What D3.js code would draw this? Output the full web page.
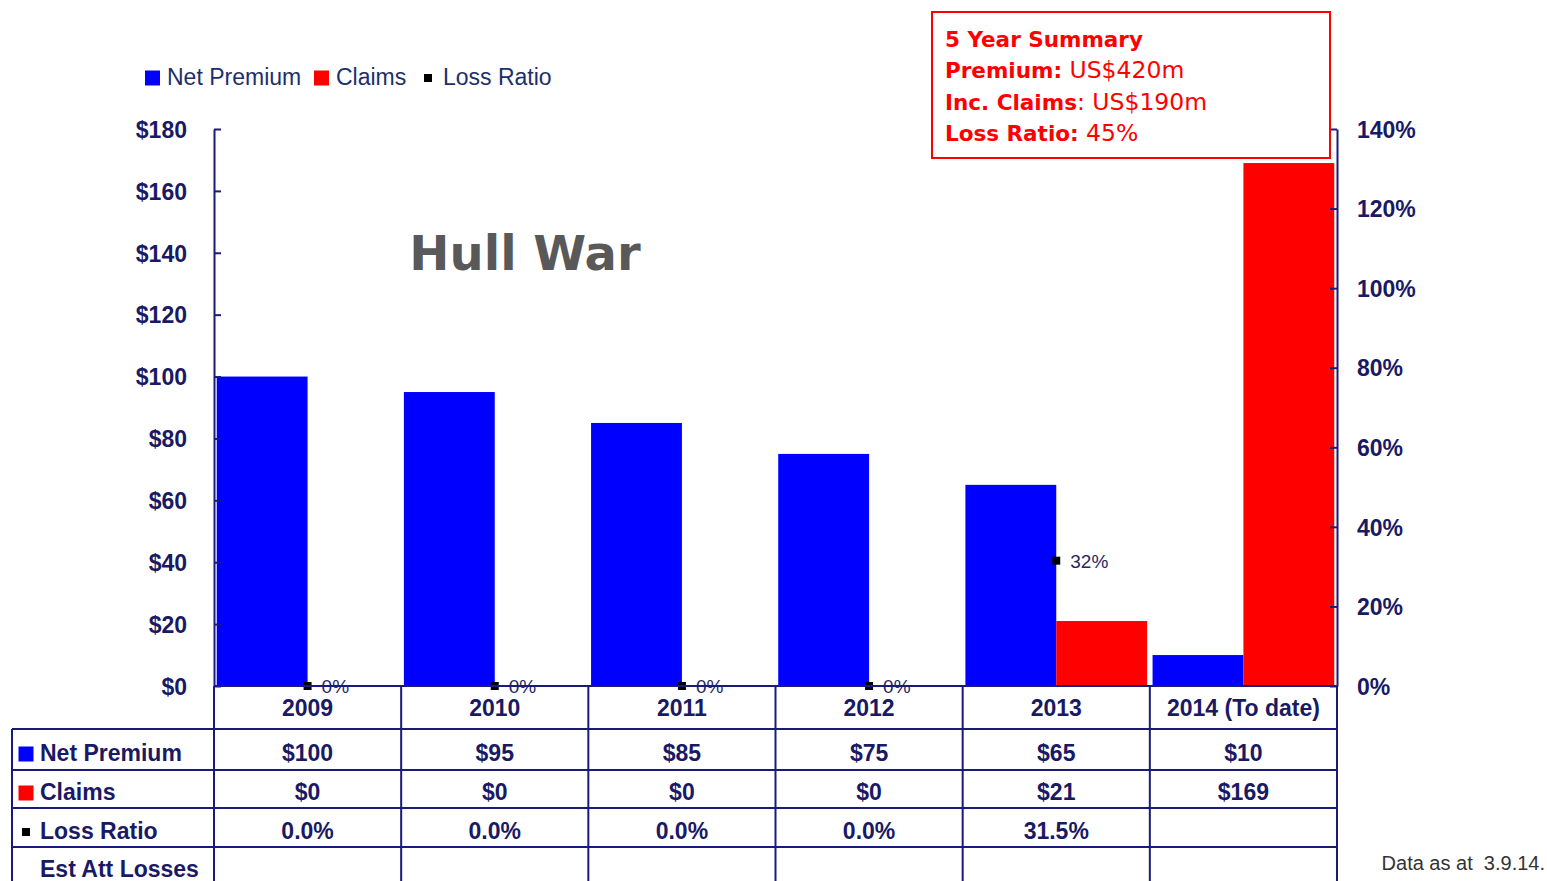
<!DOCTYPE html>
<html>
<head>
<meta charset="utf-8">
<script src="https://cdn.jsdelivr.net/npm/d3@7"></script>
<style>
  body { margin: 0; background: #fff; }
</style>
</head>
<body>
<div id="chart"></div>
<script>
(function(){

	var years = ["2009", "2010", "2011", "2012", "2013", "2014 (To date)"];
	var netPremium = [100, 95, 85, 75, 65, 10];
	var claims = [0, 0, 0, 0, 21, 169];
	var lossRatio = [0, 0, 0, 0, 31.5, null];
	var leftTicks = [0, 20, 40, 60, 80, 100, 120, 140, 160, 180];
	var rightTicks = [0, 20, 40, 60, 80, 100, 120, 140];
	var summaryLines = [
		["5 Year Summary", ""],
		["Premium:", " US$420m"],
		["Inc. Claims", ": US$190m"],
		["Loss Ratio:", " 45%"]
	];

	var width = 1547;
	var height = 881;
	var navy = "#1a1a7a";
	var textNavy = "#191964";
	var arial = "'Liberation Sans', Arial, sans-serif";
	var verdana = "'DejaVu Sans', Verdana, sans-serif";

	var svg = d3.select("div#chart")
		.append("svg")
		.attr("width", width)
		.attr("height", height)
		.append("g")
		.attr("font-family", arial)

	var left = 214, right = 1337, top = 129, bottom = 686;

	var x = d3.scaleBand().domain(years).range([left, right]).padding(0)
	var xSub = d3.scaleBand().domain(["prem", "claims"]).range([0, x.bandwidth()])
		.paddingInner(0).paddingOuter(0.03)
	var y = d3.scaleLinear().domain([0, 180]).range([bottom, top])
	var yR = d3.scaleLinear().domain([0, 140]).range([bottom, top])

	// bars
	var groups = svg.selectAll(".yr")
		.data(years)
		.enter().append("g")
		.attr("class", "yr")
		.attr("transform", function(d){ return "translate(" + x(d) + ",0)"; })

	groups.append("rect")
		.attr("x", xSub("prem"))
		.attr("width", xSub.bandwidth())
		.attr("y", function(d, i){ return y(netPremium[i]); })
		.attr("height", function(d, i){ return bottom - y(netPremium[i]); })
		.attr("fill", "#0000ff")

	groups.append("rect")
		.attr("x", xSub("claims"))
		.attr("width", xSub.bandwidth())
		.attr("y", function(d, i){ return y(claims[i]); })
		.attr("height", function(d, i){ return bottom - y(claims[i]); })
		.attr("fill", "#ff0000")

	// axes
	var axL = svg.append("g")
		.attr("transform", "translate(" + left + ",0)")
		.call(d3.axisLeft(y).tickValues(leftTicks).tickSizeInner(-7).tickSizeOuter(0).tickPadding(27)
			.tickFormat(function(d){ return "$" + d; }))
	var axR = svg.append("g")
		.attr("transform", "translate(" + right + ",0)")
		.call(d3.axisRight(yR).tickValues(rightTicks).tickSizeInner(-7).tickSizeOuter(0).tickPadding(20)
			.tickFormat(function(d){ return d + "%"; }))

	;[axL, axR].forEach(function(ax){
		ax.attr("font-family", arial)
		ax.selectAll("path, line").attr("stroke", navy).attr("stroke-width", 2)
		ax.selectAll("text")
			.attr("fill", textNavy)
			.attr("font-weight", "bold")
			.attr("font-size", 23)
			.attr("dy", "0.36em")
	})

	// loss ratio markers
	lossRatio.forEach(function(v, i){
		if (v === null) return;
		var cx = x(years[i]) + x.bandwidth() / 2;
		var cy = yR(v);
		svg.append("rect")
			.attr("x", cx - 4).attr("y", cy - 4)
			.attr("width", 8).attr("height", 8)
			.attr("fill", "#000")
		svg.append("text")
			.attr("x", cx + 14).attr("y", cy + 7)
			.attr("font-size", 19)
			.attr("fill", "#262660")
			.text(Math.round(v) + "%")
	})

	// data table
	var tableLeft = 12;
	var rowLines = [729, 770, 808, 847];
	var grid = svg.append("g").attr("stroke", navy).attr("stroke-width", 2)
	grid.append("line").attr("x1", left).attr("x2", right).attr("y1", bottom).attr("y2", bottom)
	rowLines.forEach(function(ry){
		grid.append("line").attr("x1", tableLeft).attr("x2", right).attr("y1", ry).attr("y2", ry)
	})
	grid.append("line").attr("x1", tableLeft).attr("x2", tableLeft).attr("y1", rowLines[0]).attr("y2", height)
	years.concat(["end"]).forEach(function(d){
		var vx = d === "end" ? right : x(d);
		grid.append("line").attr("x1", vx).attr("x2", vx).attr("y1", bottom).attr("y2", height)
	})

	var cellText = function(rowY, values){
		years.forEach(function(d, i){
			svg.append("text")
				.attr("x", x(d) + x.bandwidth() / 2)
				.attr("y", rowY)
				.attr("text-anchor", "middle")
				.attr("font-size", 23)
				.attr("font-weight", "bold")
				.attr("fill", textNavy)
				.text(values[i])
		})
	}
	cellText(716, years)
	cellText(761, netPremium.map(function(v){ return "$" + v; }))
	cellText(800, claims.map(function(v){ return "$" + v; }))
	cellText(839, lossRatio.map(function(v){ return v === null ? "" : v.toFixed(1) + "%"; }))

	var rowLabels = [
		{label: "Net Premium", y: 761, color: "#0000ff", size: 15},
		{label: "Claims", y: 800, color: "#ff0000", size: 15},
		{label: "Loss Ratio", y: 839, color: "#000", size: 8},
		{label: "Est Att Losses", y: 877, color: null, size: 0}
	];
	rowLabels.forEach(function(r){
		if (r.color) {
			svg.append("rect")
				.attr("x", 26 - r.size / 2).attr("y", r.y - 7 - r.size / 2)
				.attr("width", r.size).attr("height", r.size)
				.attr("fill", r.color)
		}
		svg.append("text")
			.attr("x", 40).attr("y", r.y)
			.attr("font-size", 23)
			.attr("font-weight", "bold")
			.attr("fill", textNavy)
			.text(r.label)
	})

	// legend
	var legend = [
		{label: "Net Premium", x: 145, color: "#0000ff", size: 15},
		{label: "Claims", x: 314, color: "#ff0000", size: 15},
		{label: "Loss Ratio", x: 424, color: "#000", size: 8}
	];
	legend.forEach(function(l){
		svg.append("rect")
			.attr("x", l.x).attr("y", 78 - l.size / 2)
			.attr("width", l.size).attr("height", l.size)
			.attr("fill", l.color)
		svg.append("text")
			.attr("x", l.x + (l.size === 8 ? 19 : 22)).attr("y", 85)
			.attr("font-size", 23)
			.attr("fill", "#1c2f6b")
			.text(l.label)
	})

	// title
	svg.append("text")
		.attr("x", 525).attr("y", 270)
		.attr("text-anchor", "middle")
		.attr("font-family", verdana)
		.attr("font-weight", "bold")
		.attr("font-size", 48)
		.attr("fill", "#595959")
		.text("Hull War")

	// summary box
	svg.append("rect")
		.attr("x", 932).attr("y", 12)
		.attr("width", 398).attr("height", 146)
		.attr("fill", "#fff")
		.attr("stroke", "#ff0000")
		.attr("stroke-width", 2)
	summaryLines.forEach(function(s, i){
		var t = svg.append("text")
			.attr("x", 945).attr("y", 47 + i * 31.3)
			.attr("font-family", verdana)
			.attr("font-size", 21.5)
			.attr("fill", "#ff0000")
		t.append("tspan").attr("font-weight", "bold").text(s[0])
		t.append("tspan").attr("font-size", 23.5).text(s[1])
	})

	svg.append("text")
		.attr("x", 1545).attr("y", 870)
		.attr("text-anchor", "end")
		.attr("font-size", 20)
		.attr("fill", "#333")
		.style("white-space", "pre")
		.text("Data as at  3.9.14.")

})();
</script>
</body>
</html>
